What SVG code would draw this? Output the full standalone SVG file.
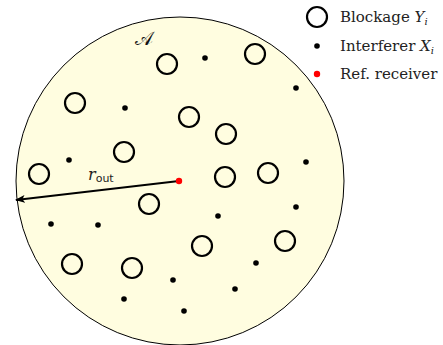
<svg xmlns="http://www.w3.org/2000/svg" width="443" height="345" viewBox="0 0 443 345">
<defs>
<style>
.blk{fill:none;stroke:#000;stroke-width:2.2}
.int{fill:#000}
.txt{font-family:'DejaVu Serif',serif;font-size:15px;fill:#222}
</style>
<marker id="ah" markerWidth="10" markerHeight="8" refX="9" refY="4" orient="auto" markerUnits="userSpaceOnUse">
<path d="M0,0 L10,4 L0,8 L2.5,4 Z" fill="#000"/>
</marker>
</defs>
<rect width="443" height="345" fill="#fff"/>
<g id="area">
<circle cx="180" cy="181" r="164" fill="#FFFDE0" stroke="#000" stroke-width="1"/>
<text x="135" y="45" font-family="'DejaVu Serif',serif" font-size="19" fill="#111">𝒜</text>
</g>
<g id="blockages">
<circle class="blk" cx="167" cy="64" r="10"/>
<circle class="blk" cx="255" cy="54" r="10"/>
<circle class="blk" cx="75" cy="103" r="10"/>
<circle class="blk" cx="189" cy="117" r="10"/>
<circle class="blk" cx="226" cy="134" r="10"/>
<circle class="blk" cx="124" cy="152" r="10"/>
<circle class="blk" cx="39" cy="174" r="10"/>
<circle class="blk" cx="225" cy="177" r="10"/>
<circle class="blk" cx="268" cy="173" r="10"/>
<circle class="blk" cx="149" cy="204" r="10"/>
<circle class="blk" cx="202" cy="246" r="10"/>
<circle class="blk" cx="285" cy="241" r="10"/>
<circle class="blk" cx="72" cy="264" r="10"/>
<circle class="blk" cx="132" cy="268" r="10"/>
</g>
<g id="interferers">
<circle class="int" cx="205" cy="58" r="2.8"/>
<circle class="int" cx="296" cy="88" r="2.8"/>
<circle class="int" cx="125" cy="108" r="2.8"/>
<circle class="int" cx="69" cy="160" r="2.8"/>
<circle class="int" cx="306" cy="162" r="2.8"/>
<circle class="int" cx="296" cy="207" r="2.8"/>
<circle class="int" cx="218" cy="216" r="2.8"/>
<circle class="int" cx="51" cy="224" r="2.8"/>
<circle class="int" cx="98" cy="225" r="2.8"/>
<circle class="int" cx="256" cy="263" r="2.8"/>
<circle class="int" cx="173" cy="280" r="2.8"/>
<circle class="int" cx="235" cy="289" r="2.8"/>
<circle class="int" cx="124" cy="299" r="2.8"/>
<circle class="int" cx="184" cy="311" r="2.8"/>
</g>
<g id="connectors">
<line x1="179" y1="181" x2="16" y2="200" stroke="#000" stroke-width="2" marker-end="url(#ah)"/>
<text x="88" y="180" font-family="'DejaVu Serif',serif" font-size="16" font-style="italic" fill="#222">r<tspan font-family="'DejaVu Sans',sans-serif" font-style="normal" font-size="11" dy="2">out</tspan></text>
</g>
<g id="receiver">
<circle cx="179" cy="181" r="3.2" fill="#f00"/>
</g>
<g id="legend">
<circle class="blk" cx="317" cy="17" r="10"/>
<text x="340" y="22" class="txt">Blockage <tspan font-style="italic">Y</tspan><tspan font-style="italic" font-size="10" dy="3">i</tspan></text>
<circle class="int" cx="317" cy="46" r="2.8"/>
<text x="340" y="51" class="txt">Interferer <tspan font-style="italic">X</tspan><tspan font-style="italic" font-size="10" dy="3">i</tspan></text>
<circle cx="317" cy="74" r="3.2" fill="#f00"/>
<text x="340" y="79" class="txt">Ref. receiver</text>
</g>
</svg>
